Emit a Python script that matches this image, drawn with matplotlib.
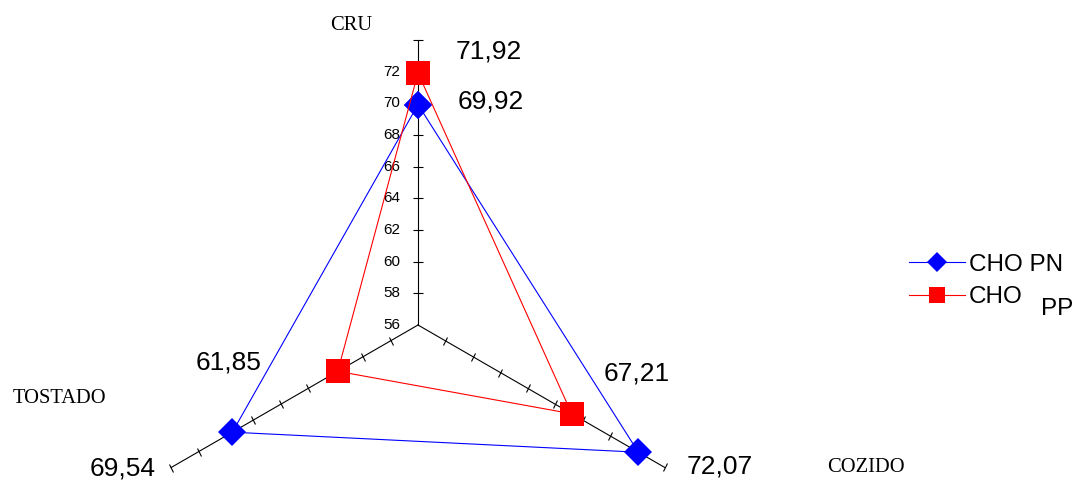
import matplotlib
matplotlib.use("Agg")
import matplotlib.pyplot as plt
import numpy as np
from matplotlib.markers import MarkerStyle
from matplotlib.transforms import Affine2D
from matplotlib.lines import Line2D

# Radar chart data: three preparation stages, two series
categories = ["CRU", "COZIDO", "TOSTADO"]
cho_pn = [69.92, 72.07, 69.54]
cho_pp = [71.92, 67.21, 61.85]
pn_labels = ["69,92", "72,07", "69,54"]
pp_labels = ["71,92", "67,21", "61,85"]
r_ticks = [56, 58, 60, 62, 64, 66, 68, 70, 72]
r_min, r_max = 56, 74

SANS = "Liberation Sans"
SERIF = "Liberation Serif"

W, H = 1075, 480
fig = plt.figure(figsize=(W / 100, H / 100), dpi=100)
cx, cy, R = 418, 325, 285
ax = fig.add_axes([(cx - R) / W, (H - cy - R) / H, 2 * R / W, 2 * R / H],
                  projection="polar")
ax.set_theta_zero_location("N")
ax.set_theta_direction(-1)
ax.set_rlim(r_min, r_max)
ax.set_axis_off()

thetas = np.deg2rad([0, 120, 240])
# screen-angle of the tick marks on each spoke (perpendicular to the spoke)
tick_rot = [0, 60, 120]
tick_pos = list(range(58, r_max + 1, 2))

for t, rot in zip(thetas, tick_rot):
    ax.plot([t, t], [r_min, r_max], color="black", lw=0.8, clip_on=False, zorder=1)
    ax.plot([t] * len(tick_pos), tick_pos, ls="none",
            marker=MarkerStyle("_", transform=Affine2D().rotate_deg(rot)),
            ms=6.5, mew=0.8, color="black", clip_on=False, zorder=1)

# radial scale labels along the CRU spoke
for v in r_ticks:
    ax.annotate(str(v), (thetas[0], v), xytext=(-18, 0), textcoords="offset pixels",
                ha="right", va="center", fontsize=11, family=SANS,
                annotation_clip=False)

tc = np.append(thetas, thetas[0])
ax.plot(tc, cho_pn + cho_pn[:1], color="#0000FF", lw=0.8, marker="D", ms=14.5,
        mew=0, clip_on=False, zorder=3)
ax.plot(tc, cho_pp + cho_pp[:1], color="#FF0000", lw=0.8, marker="s", ms=17,
        mew=0, clip_on=False, zorder=4)

# value labels
pn_off = [(73, 3), (81, -14), (-110, -36)]
pp_off = [(71, 21), (65, 40), (-109, 9)]
for t, v, lab, off in zip(thetas, cho_pn, pn_labels, pn_off):
    ax.annotate(lab, (t, v), xytext=off, textcoords="offset pixels",
                ha="center", va="center", fontsize=19, family=SANS,
                annotation_clip=False)
for t, v, lab, off in zip(thetas, cho_pp, pp_labels, pp_off):
    ax.annotate(lab, (t, v), xytext=off, textcoords="offset pixels",
                ha="center", va="center", fontsize=19, family=SANS,
                annotation_clip=False)

# category names at the spoke ends
cat_off = [(-67, 15), (201, 0), (-112, 69)]
for t, name, off in zip(thetas, categories, cat_off):
    ax.annotate(name, (t, r_max), xytext=off, textcoords="offset pixels",
                ha="center", va="center", fontsize=14.8, family=SERIF,
                annotation_clip=False)

handles = [
    Line2D([], [], color="#0000FF", lw=0.8, marker="D", ms=10.5, mew=0),
    Line2D([], [], color="#FF0000", lw=0.8, marker="s", ms=11.5, mew=0),
]
fig.legend(handles, ["CHO PN", "CHO"], loc="center left",
           bbox_to_anchor=(909 / W, 1 - 281 / H), frameon=False,
           prop={"family": SANS, "size": 17.5}, handlelength=2.3,
           handletextpad=0.15, labelspacing=0.45, borderpad=0, borderaxespad=0)
fig.text(1057 / W, 1 - 309 / H, "PP", ha="center", va="center",
         fontsize=17.5, family=SANS)

fig.savefig("out.png", dpi=100)
